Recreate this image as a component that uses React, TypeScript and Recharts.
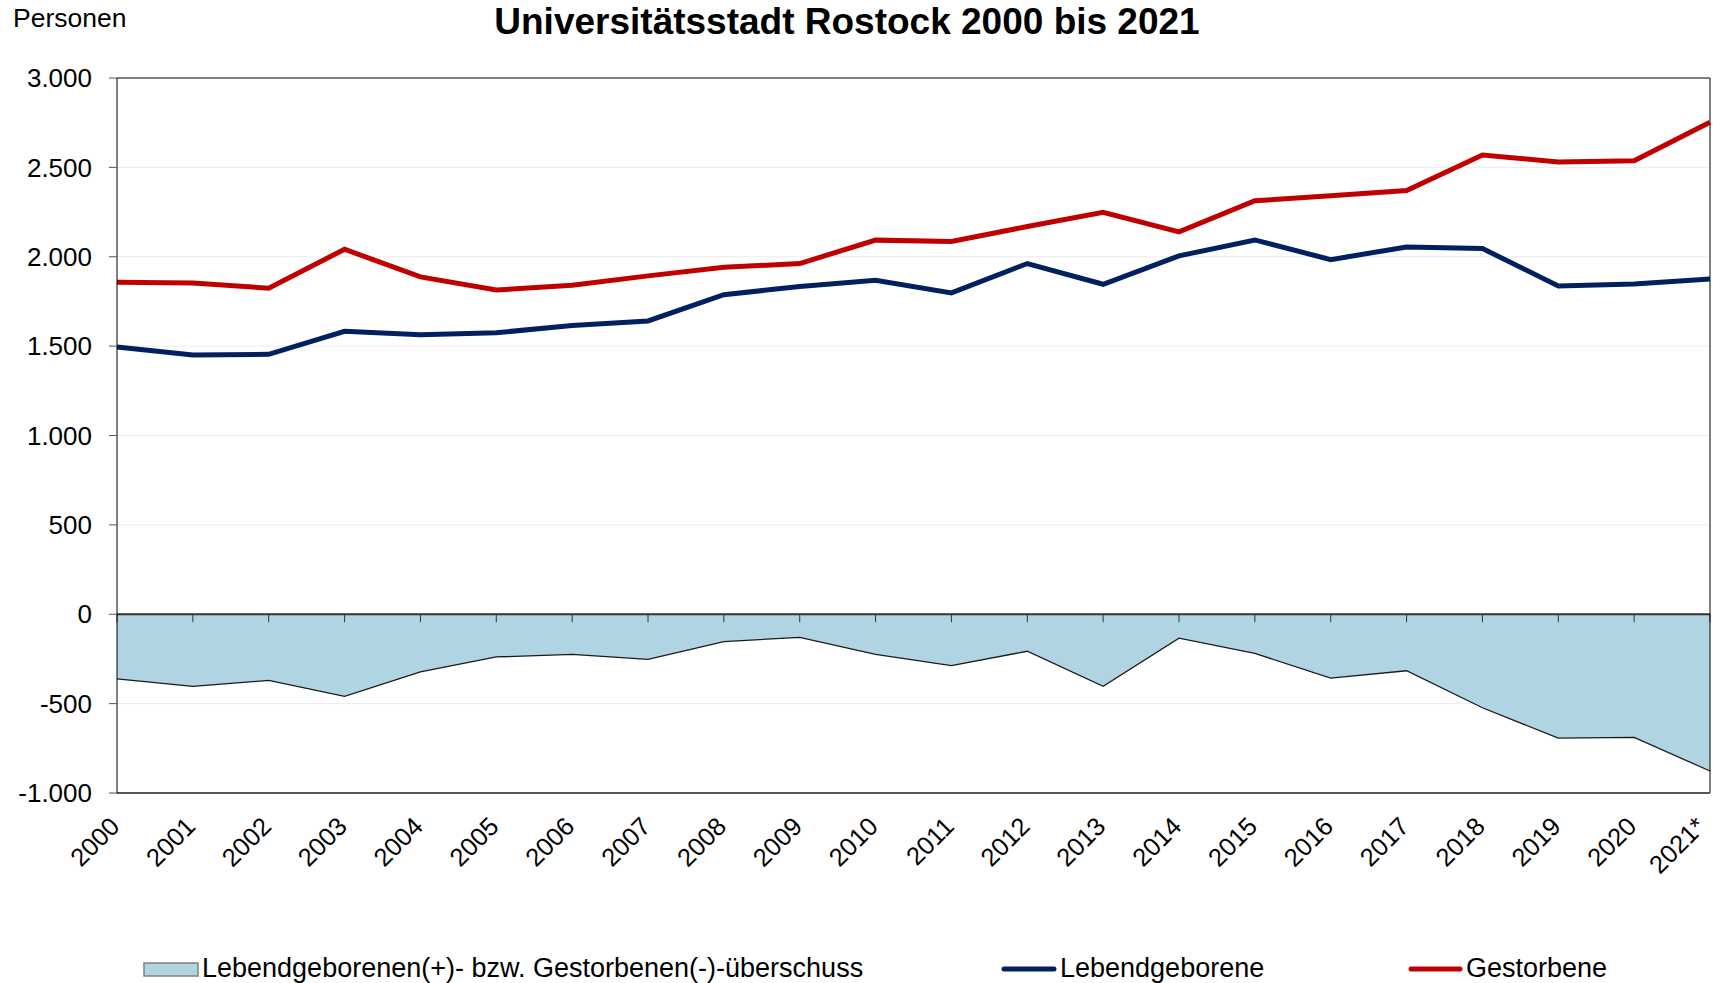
import React from "react";
import {
  ComposedChart,
  Line,
  Area,
  XAxis,
  YAxis,
  CartesianGrid,
  ReferenceLine,
} from "recharts";

const years = [
  "2000", "2001", "2002", "2003", "2004", "2005", "2006", "2007", "2008", "2009", "2010",
  "2011", "2012", "2013", "2014", "2015", "2016", "2017", "2018", "2019", "2020", "2021*",
];

// Lebendgeborene
const births = [
  1495, 1450, 1454, 1583, 1564, 1575, 1615, 1641, 1788, 1833, 1869,
  1798, 1962, 1846, 2005, 2094, 1984, 2055, 2046, 1837, 1848, 1876,
];

// Gestorbene
const deaths = [
  1857, 1853, 1824, 2042, 1887, 1814, 1840, 1893, 1941, 1962, 2093,
  2085, 2169, 2249, 2139, 2313, 2341, 2371, 2569, 2530, 2537, 2753,
];

// Überschuss (area)
const balance = [
  -362, -403, -370, -459, -323, -239, -225, -252, -153, -129, -224,
  -287, -207, -403, -134, -219, -357, -316, -523, -693, -689, -877,
];

const yTicks = [-1000, -500, 0, 500, 1000, 1500, 2000, 2500, 3000];

const title = "Universitätsstadt Rostock 2000 bis 2021";
const unitLabel = "Personen";
const seriesNames = {
  balance: "Lebendgeborenen(+)- bzw. Gestorbenen(-)-überschuss",
  births: "Lebendgeborene",
  deaths: "Gestorbene",
};

const W = 1713;
const H = 983;
const FONT = "'Liberation Sans', Arial, Helvetica, sans-serif";
const RED = "#c00000";
const BLUE = "#002060";
const AREA_FILL = "#b1d4e2";

const data = years.map((year, i) => ({
  year,
  births: births[i],
  deaths: deaths[i],
  balance: balance[i],
}));

const formatDe = (v: number) => {
  const s = String(Math.abs(v)).replace(/\B(?=(\d{3})+(?!\d))/g, ".");
  return v < 0 ? "-" + s : s;
};

const YearTick = ({ x, y, payload }: any) => {
  // keep the rotated label inside the picture at the right edge
  const ax = Math.min(x + 4, W - 6);
  const ay = y + 35;
  return (
    <text
      x={ax}
      y={ay}
      transform={`rotate(-45 ${ax} ${ay})`}
      textAnchor="end"
      fontSize={25.5}
      fontFamily={FONT}
      fill="#000"
    >
      {payload.value}
    </text>
  );
};

// zero line with small category ticks hanging down
const ZeroAxis = (props: any) => {
  const { x1, y1, x2, y2 } = props;
  const n = years.length;
  return (
    <g>
      {years.map((_, i) => {
        const tx = x1 + ((x2 - x1) * i) / (n - 1);
        return <line key={i} x1={tx} y1={y1} x2={tx} y2={y1 + 8} stroke="#333" strokeWidth={1} />;
      })}
      <line x1={x1} y1={y1} x2={x2} y2={y2} stroke="#333" strokeWidth={2} />
    </g>
  );
};

export default function App() {
  return (
    <div
      style={{
        position: "absolute",
        left: 0,
        top: 0,
        width: W,
        height: H,
        background: "#fff",
        fontFamily: FONT,
      }}
    >
      <ComposedChart
        width={W}
        height={H}
        data={data}
        margin={{ top: 78, right: 3, bottom: 0, left: 0 }}
      >
        <CartesianGrid horizontal vertical={false} stroke="#ececec" strokeWidth={1} />
        <XAxis
          dataKey="year"
          type="category"
          scale="point"
          padding={{ left: 0, right: 0 }}
          height={190}
          interval={0}
          tickLine={false}
          tickSize={0}
          tickMargin={0}
          axisLine={{ stroke: "#555", strokeWidth: 2 }}
          tick={<YearTick />}
        />
        <YAxis
          type="number"
          domain={[-1000, 3000]}
          ticks={yTicks}
          interval={0}
          width={117}
          tickSize={8}
          tickMargin={17}
          tickLine={{ stroke: "#555" }}
          axisLine={{ stroke: "#000" }}
          tick={{ fill: "#000", fontSize: 26, fontFamily: FONT }}
          tickFormatter={formatDe}
        />
        <Area
          type="linear"
          dataKey="balance"
          name={seriesNames.balance}
          fill={AREA_FILL}
          fillOpacity={1}
          stroke="#1a1a1a"
          strokeWidth={1.3}
          dot={false}
          activeDot={false}
          isAnimationActive={false}
        />
        <ReferenceLine y={0} shape={<ZeroAxis />} />
        <ReferenceLine y={3000} stroke="#7f7f7f" strokeWidth={2} />
        <ReferenceLine x={years[years.length - 1]} stroke="#000" strokeWidth={1} />
        <Line
          type="linear"
          dataKey="births"
          name={seriesNames.births}
          stroke={BLUE}
          strokeWidth={5}
          dot={false}
          activeDot={false}
          isAnimationActive={false}
        />
        <Line
          type="linear"
          dataKey="deaths"
          name={seriesNames.deaths}
          stroke={RED}
          strokeWidth={5}
          dot={false}
          activeDot={false}
          isAnimationActive={false}
        />
      </ComposedChart>

      <svg
        width={W}
        height={H}
        style={{ position: "absolute", left: 0, top: 0, pointerEvents: "none" }}
      >
        <text x={847} y={34} textAnchor="middle" fontSize={37} fontWeight="bold" fontFamily={FONT} fill="#000">
          {title}
        </text>
        <text x={13} y={27} fontSize={26.5} fontFamily={FONT} fill="#000">
          {unitLabel}
        </text>

        <rect x={144} y={963} width={54} height={13} fill={AREA_FILL} stroke="#808080" strokeWidth={1.5} />
        <text x={202} y={977} fontSize={27} fontFamily={FONT} fill="#000">
          {seriesNames.balance}
        </text>

        <line x1={1004} y1={969} x2={1054} y2={969} stroke={BLUE} strokeWidth={5} strokeLinecap="round" />
        <text x={1060} y={977} fontSize={27} fontFamily={FONT} fill="#000">
          {seriesNames.births}
        </text>

        <line x1={1411} y1={969} x2={1460} y2={969} stroke={RED} strokeWidth={5} strokeLinecap="round" />
        <text x={1466} y={977} fontSize={27} fontFamily={FONT} fill="#000">
          {seriesNames.deaths}
        </text>
      </svg>
    </div>
  );
}
